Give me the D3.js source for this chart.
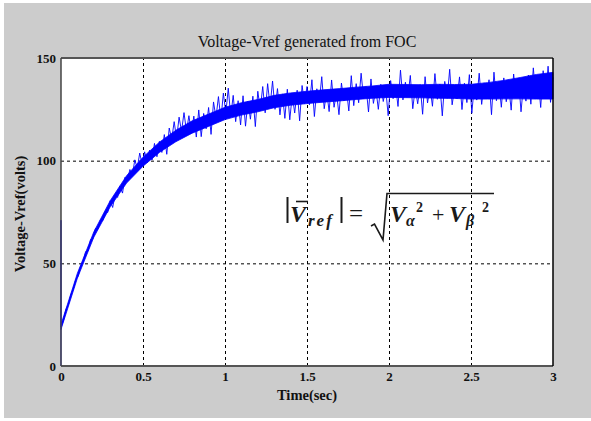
<!DOCTYPE html>
<html><head><meta charset="utf-8">
<script src="https://cdn.jsdelivr.net/npm/d3@7"></script>
<style>body{margin:0;background:#fff}svg{display:block}</style>
</head><body>
<svg id="c" width="591" height="421"></svg>
<script>
const chartTitle = "Voltage-Vref generated from FOC";
const xLabel = "Time(sec)";
const yLabel = "Voltage-Vref(volts)";
const xTicks = [0, 0.5, 1, 1.5, 2, 2.5, 3];
const xTickLabels = ["0", "0.5", "1", "1.5", "2", "2.5", "3"];
const yTicks = [0, 50, 100, 150];
const yTickLabels = ["0", "50", "100", "150"];
const sampleStep = 0.015; // seconds between samples
const startSpike = [0, 71]; // values at t = 0 before the signal settles on its first sample
const vref = [
19,22.2,27.6,29.9,34.8,37.4,42.0,43.8,48.7,50.9,
55.7,56.0,61.6,62.0,67.0,66.7,71.1,70.8,75.1,74.8,
80.5,77.2,83.4,82.1,87.7,84.2,91.9,90.4,95.7,92.7,
100.4,96.3,103.7,98.0,104.3,99.0,105.1,100.3,108.4,101.9,
109.4,104.0,112.7,103.1,115.9,110.4,119.0,110.7,121.2,114.3,
123.4,114.3,121.9,113.5,121.7,111.5,124.7,111.7,123.0,115.5,
125.9,112.8,128.6,120.9,131.2,119.9,132.9,123.1,135.3,121.6,
131.8,119.0,129.2,117.4,131.6,116.8,129.0,120.2,131.4,116.6,
133.8,125.0,136.1,123.3,137.5,126.6,138.8,125.0,135.1,122.3,
132.5,120.6,134.8,119.9,132.0,123.2,134.3,119.4,136.6,127.7,
136.1,127.2,139.4,121.5,135.0,128.6,140.9,125.3,133.8,123.9,
139.3,126.0,133.1,122.4,137.8,129.1,135.2,124.2,141.4,126.8,
137.5,128.2,142.6,130.3,136.1,123.7,139.8,127.9,134.9,125.0,
137.2,128.8,135.1,121.9,139.0,130.2,136.5,126.4,144.1,129.6,
138.2,131.0,141.5,125.3,135.4,127.7,137.0,122.6,140.9,128.1,
136.0,126.5,142.4,129.9,137.3,121.8,138.6,130.4,144.5,127.2,
135.2,130.1,140.8,124.9,137.7,128.3,141.9,123.1,136.4,129.5,
142.6,127.4,137.9,131.8,139.4,122.4,143.1,129.2,138.5,126.0,
140.3,128.7,136.4,124.6,142.2,130.9,139.9,123.8,137.2,129.0,
141.7,127.5,145.2,131.3,139.6,125.9,143.8,130.1,146.0,128.4,
140.5
];
// dense core of the noisy trace (read every 0.1 s)
const bandTime = [0,0.1,0.2,0.3,0.4,0.5,0.6,0.7,0.8,0.9,1.0,1.1,1.2,1.3,1.4,1.5,1.6,1.7,1.8,1.9,2.0,2.1,2.2,2.3,2.4,2.5,2.6,2.7,2.8,2.9,3.0];
const bandLow  = [17.8,42.8,62.7,77.5,89.1,97.3,104,109.2,113.4,116.7,120,122.2,123.8,125.8,127,127.8,128.5,129.1,129.8,130.4,130.8,130.7,130.6,130.4,130.3,130,130,130.1,130.1,130,130];
const bandHigh = [20.2,45.2,65.3,80.5,92.7,101.7,109,114.8,119.4,122.7,126,128.2,129.8,131.8,133,133.8,134.5,135.1,135.8,136.4,137.2,137.1,137,137.2,137.1,137.2,138,139.1,140.5,142,143];

const svg = d3.select("#c");
const W = 591;
const m = {left: 61, top: 58, right: 553, bottom: 366};

svg.append("rect").attr("x", 4).attr("y", 3).attr("width", W - 4).attr("height", 415).attr("fill", "#cccccc");
svg.append("rect").attr("x", m.left).attr("y", m.top).attr("width", m.right - m.left).attr("height", m.bottom - m.top).attr("fill", "#fff");

const x = d3.scaleLinear().domain([0, 3]).range([m.left, m.right]);
const y = d3.scaleLinear().domain([0, 150]).range([m.bottom, m.top]);

// grid
const gx = svg.append("g").attr("transform", `translate(0,${m.bottom})`)
  .call(d3.axisBottom(x).tickValues(xTicks.slice(1, -1)).tickSize(-(m.bottom - m.top)).tickFormat(""));
gx.select(".domain").remove();
gx.selectAll("line").attr("stroke", "#000").attr("stroke-dasharray", "3,3").attr("stroke-width", 1);
const gy = svg.append("g").attr("transform", `translate(${m.left},0)`)
  .call(d3.axisLeft(y).tickValues(yTicks.slice(1, -1)).tickSize(-(m.right - m.left)).tickFormat(""));
gy.select(".domain").remove();
gy.selectAll("line").attr("stroke", "#000").attr("stroke-dasharray", "3,3").attr("stroke-width", 1);

// signal: dense core
const band = bandTime.map((tt, i) => [tt, bandLow[i], bandHigh[i]]);
svg.append("path").datum(band)
  .attr("fill", "#0000ff").attr("stroke", "#0000ff").attr("stroke-width", 0.8)
  .attr("d", d3.area().x(d => x(d[0])).y0(d => y(d[1])).y1(d => y(d[2])));
// signal: spikes
const pts = startSpike.map(v => [0, v]).concat(vref.map((v, i) => [i * sampleStep, v]));
svg.append("path").datum(pts)
  .attr("fill", "none").attr("stroke", "#0000ff").attr("stroke-width", 0.9)
  .attr("d", d3.line().x(d => x(d[0])).y(d => y(d[1])));

// frame
svg.append("line").attr("x1", m.left).attr("x2", m.right).attr("y1", m.top).attr("y2", m.top).attr("stroke", "#555").attr("stroke-width", 2);
svg.append("line").attr("x1", m.left).attr("x2", m.right).attr("y1", m.bottom).attr("y2", m.bottom).attr("stroke", "#555").attr("stroke-width", 2);
svg.append("line").attr("x1", m.left).attr("x2", m.left).attr("y1", m.top).attr("y2", m.bottom).attr("stroke", "#444").attr("stroke-width", 1.5);
svg.append("line").attr("x1", m.right).attr("x2", m.right).attr("y1", m.top).attr("y2", m.bottom).attr("stroke", "#000").attr("stroke-width", 1.5);

// tick labels
const ax = svg.append("g").attr("transform", `translate(0,${m.bottom})`)
  .call(d3.axisBottom(x).tickValues(xTicks).tickSize(0).tickPadding(6).tickFormat((d, i) => xTickLabels[i]));
ax.select(".domain").remove();
ax.selectAll("text").attr("font-family", "'Liberation Serif', serif").attr("font-weight", "bold").attr("font-size", 13).attr("fill", "#111");
const ay = svg.append("g").attr("transform", `translate(${m.left},0)`)
  .call(d3.axisLeft(y).tickValues(yTicks).tickSize(0).tickPadding(5).tickFormat((d, i) => yTickLabels[i]));
ay.select(".domain").remove();
ay.selectAll("text").attr("font-family", "'Liberation Serif', serif").attr("font-weight", "bold").attr("font-size", 13).attr("fill", "#111");

// titles
svg.append("text").attr("x", 307).attr("y", 47).attr("text-anchor", "middle")
  .attr("font-family", "'Liberation Serif', serif").attr("font-size", 16).attr("fill", "#111").text(chartTitle);
svg.append("text").attr("x", 307).attr("y", 400).attr("text-anchor", "middle")
  .attr("font-family", "'Liberation Serif', serif").attr("font-weight", "bold").attr("font-size", 14.5).attr("fill", "#111").text(xLabel);
svg.append("text").attr("transform", "translate(25,214) rotate(-90)").attr("text-anchor", "middle")
  .attr("font-family", "'Liberation Serif', serif").attr("font-weight", "bold").attr("font-size", 14.5).attr("fill", "#111").text(yLabel);

// formula
const f = svg.append("g").attr("font-family", "'Liberation Serif', serif").attr("fill", "#1a1a1a");
function t(xp, yp, s, size, italic, bold, ls) {
  f.append("text").attr("x", xp).attr("y", yp).attr("font-size", size)
    .attr("letter-spacing", ls || 0)
    .attr("font-style", italic ? "italic" : "normal").attr("font-weight", bold ? "bold" : "normal").text(s);
}
f.append("line").attr("x1", 287.5).attr("x2", 287.5).attr("y1", 197).attr("y2", 223).attr("stroke", "#1a1a1a").attr("stroke-width", 2);
t(290, 221.5, "V", 24, true, true);
f.append("line").attr("x1", 296).attr("x2", 308).attr("y1", 201.5).attr("y2", 201.5).attr("stroke", "#1a1a1a").attr("stroke-width", 1.6);
t(308, 226, "ref", 17, true, true, 2);
f.append("line").attr("x1", 341.5).attr("x2", 341.5).attr("y1", 197).attr("y2", 223).attr("stroke", "#1a1a1a").attr("stroke-width", 2);
t(349, 222, "=", 25, false, false);
f.append("path").attr("d", "M371,226 L374.5,224 L383,240 L387,193.5 L494,193.5").attr("fill", "none").attr("stroke", "#1a1a1a").attr("stroke-width", 1.6);
t(390, 221.5, "V", 24, true, true);
t(406, 226, "α", 16, true, true);
t(416, 212, "2", 14, false, true);
t(432, 222, "+", 22, false, false);
t(449, 221.5, "V", 24, true, true);
t(466, 226, "β", 16, true, true);
t(482, 212, "2", 14, false, true);
</script>
</body></html>
